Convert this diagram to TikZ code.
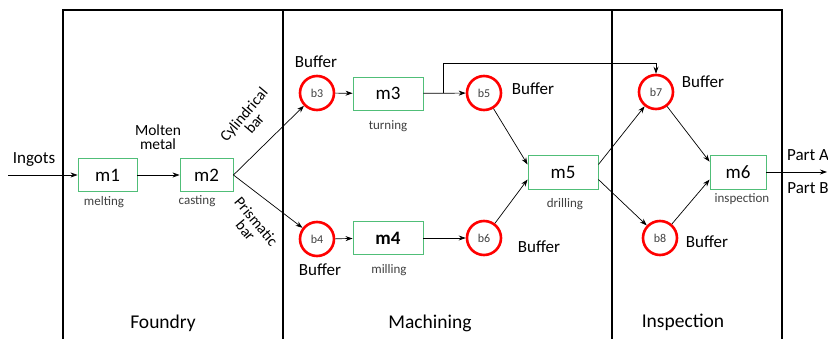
\documentclass[tikz,border=0pt]{standalone}
\usepackage{fontspec}
\setmainfont{Carlito}
\usetikzlibrary{arrows.meta}
\definecolor{boxgreen}{RGB}{80,190,120}
\definecolor{lab}{RGB}{64,64,64}
\begin{document}
\begin{tikzpicture}[x=1pt,y=-1pt,
  machine/.style={draw=boxgreen, line width=0.9pt, minimum width=#1, minimum height=33pt, inner sep=0pt, font=\fontsize{19}{22}\selectfont},
  buf/.style={circle, draw=red, line width=2.6pt, minimum size=34pt, inner sep=0pt, font=\fontsize{12}{14}\selectfont, text=lab},
  sub/.style={font=\fontsize{13}{15}\selectfont, text=lab},
  lbl/.style={font=\fontsize{17}{20}\selectfont, align=center},
  rlbl/.style={font=\fontsize{15.5}{17}\selectfont, align=center},
  sec/.style={font=\fontsize{19.5}{22}\selectfont},
  flow/.style={-{Stealth[length=7pt,width=5pt]}, line width=0.7pt},
  frame/.style={line width=2.5pt}]
\useasboundingbox (0,0) rectangle (828,339);
% frame
\draw[frame] (63,340) -- (63,10) -- (782,10) -- (782,340);
\draw[frame] (283,10) -- (283,340);
\draw[frame] (612,10) -- (612,340);
% section labels
\node[sec] (foundry) at (163,323) {Foundry};
\node[sec] (machining) at (430,323) {Machining};
\node[sec] (inspection) at (683,322) {Inspection};
% machines
\node[machine=59pt] (m1) at (107.5,175) {m1};
\node[machine=53pt] (m2) at (206.5,175) {m2};
\node[machine=70pt] (m3) at (388,93.5) {m3};
\node[machine=70pt] (m4) at (388,238) {\textbf{m4}};
\node[machine=70pt, minimum height=34pt] (m5) at (563,172) {m5};
\node[machine=56pt, minimum height=34pt] (m6) at (738,172) {m6};
% sub labels
\node[sub] (l1) at (104,202) {melting};
\node[sub] (l2) at (197,201) {casting};
\node[sub] (l3) at (388,126) {turning};
\node[sub] (l4) at (389,270) {milling};
\node[sub] (l5) at (565,204) {drilling};
\node[sub] (l6) at (742,199) {inspection};
% buffers
\node[buf] (b3) at (317,93) {b3};
\node[buf] (b4) at (317,239) {b4};
\node[buf] (b5) at (484,93) {b5};
\node[buf] (b6) at (484,238) {b6};
\node[buf] (b7) at (656,92) {b7};
\node[buf] (b8) at (660,238) {b8};
% buffer labels
\node[lbl] (t3) at (316,62) {Buffer};
\node[lbl] (t4) at (320,270) {Buffer};
\node[lbl] (t5) at (533,89) {Buffer};
\node[lbl] (t6) at (539,247) {Buffer};
\node[lbl] (t7) at (703,82) {Buffer};
\node[lbl] (t8) at (707,242) {Buffer};
% other labels
\node[lbl] (ing) at (34,160) {Ingots};
\node[rlbl] (molten) at (158,137) {Molten\\[-3pt]metal};
\node[rlbl, rotate=50] (cyl) at (249,119) {Cylindrical\\[-3pt]bar};
\node[rlbl, rotate=-50] (pri) at (251,226) {Prismatic\\[-3pt]bar};
\node[lbl] (pa) at (808,155) {Part A};
\node[lbl] (pb) at (808,188) {Part B};
% connectors
\coordinate (in) at (8,175);
\coordinate (out) at (827,172);
\coordinate (split) at (443,93.5);
\coordinate (up) at (443,63);
\coordinate (over) at (656,63);
\draw[flow] (in) -- (m1);
\draw[flow] (m1) -- (m2);
\draw[flow] (m2.east) -- (b3);
\draw[flow] (m2.east) -- (b4);
\draw[flow] (b3) -- (m3);
\draw[flow] (b4) -- (m4);
\draw[flow] (m3) -- (b5);
\draw[flow] (m4) -- (b6);
\draw[flow] (split) -- (up) -- (over) -- (b7.north);
\draw[flow] (b5) -- (m5.168);
\draw[flow] (b6) -- (m5.192);
\draw[flow] (m5.12) -- (b7);
\draw[flow] (m5.-12) -- (b8);
\draw[flow] (b7) -- (m6.160);
\draw[flow] (b8) -- (m6.195);
\draw[flow] (m6) -- (out);
\end{tikzpicture}
\end{document}
